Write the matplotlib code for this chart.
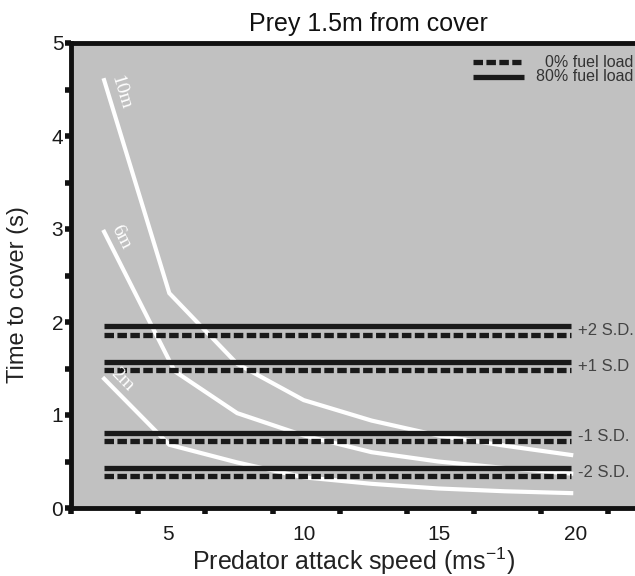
import numpy as np
import matplotlib
matplotlib.use("Agg")
import matplotlib.pyplot as plt
from matplotlib.lines import Line2D

plt.rcParams['font.family'] = ['Liberation Sans', 'DejaVu Sans']
plt.rcParams['mathtext.default'] = 'regular'

# ---- data ----
speed_10m = [2.65, 5.05, 7.55, 10.0, 12.5, 14.95, 17.4, 19.85]
time_10m = [4.60, 2.31, 1.55, 1.16, 0.94, 0.78, 0.67, 0.57]

speed_6m = [2.65, 5.25, 7.55, 10.0, 12.5, 14.95, 17.4, 19.85]
time_6m = [2.97, 1.47, 1.02, 0.78, 0.60, 0.50, 0.43, 0.37]

speed_2m = [2.65, 5.05, 7.55, 10.0, 12.5, 14.95, 17.4, 19.85]
time_2m = [1.39, 0.68, 0.49, 0.33, 0.26, 0.21, 0.18, 0.16]

curve_labels = ["10m", "6m", "2m"]

sd_labels = ["+2 S.D.", "+1 S.D", "-1 S.D.", "-2 S.D."]
sd_fuel0 = [1.86, 1.48, 0.72, 0.34]     # dashed: 0% fuel load
sd_fuel80 = [1.96, 1.57, 0.81, 0.43]    # solid: 80% fuel load
sd_xrange = [2.65, 19.85]

x_ticklabels = [5, 10, 15, 20]
y_ticklabels = [0, 1, 2, 3, 4, 5]

# ---- figure ----
W, H = 635, 576
fig = plt.figure(figsize=(W / 100, H / 100), dpi=100)
fig.patch.set_facecolor('white')
ax = fig.add_axes([71 / W, 1 - 508 / H, 1 - 71 / W, (508 - 43) / H])
ax.set_facecolor('#c1c1c1')
ax.set_xlim(1.43, 22.2)
ax.set_ylim(0, 5)

dark = '#1a1a1a'
dash_pat = [1.8, 0.65]
# S.D. reference lines
for lab, y0, y80 in zip(sd_labels, sd_fuel0, sd_fuel80):
    ax.plot(sd_xrange, [y80, y80], color=dark, lw=3.8, solid_capstyle='butt', zorder=3)
    l, = ax.plot(sd_xrange, [y0, y0], color=dark, lw=3.8, dash_capstyle='butt', zorder=3)
    l.set_dashes(dash_pat)
    ax.text(20.11, (y0 + y80) / 2, lab, fontsize=12, color='#444444',
            va='center', ha='left', zorder=4)

# distance curves
curves = [(speed_10m, time_10m), (speed_6m, time_6m), (speed_2m, time_2m)]
for (xs, ys), lab in zip(curves, curve_labels):
    ax.plot(xs, ys, color='white', lw=3.0, solid_joinstyle='miter', zorder=2)

fig.canvas.draw()
for (xs, ys), lab in zip(curves, curve_labels):
    p0 = ax.transData.transform((xs[0], ys[0]))
    p1 = ax.transData.transform((xs[1], ys[1]))
    ang = np.degrees(np.arctan2(p1[1] - p0[1], p1[0] - p0[0]))
    ax.annotate(lab, xy=(xs[0], ys[0]), xytext=(2.5, 1.5), textcoords='offset points',
                rotation=ang, rotation_mode='anchor', ha='left', va='bottom',
                fontsize=14, color='white', family='Liberation Serif', zorder=5)

# legend drawn at the top right
ax.add_line(Line2D([0.713, 0.798], [0.959, 0.959], transform=ax.transAxes,
                   color=dark, lw=3.8, dashes=dash_pat, dash_capstyle='butt'))
ax.add_line(Line2D([0.713, 0.803], [0.927, 0.927], transform=ax.transAxes,
                   color=dark, lw=3.8, solid_capstyle='butt'))
ax.text(0.997, 0.959, "0% fuel load", transform=ax.transAxes, ha='right', va='center',
        fontsize=11.5, color='#333333')
ax.text(0.997, 0.927, "80% fuel load", transform=ax.transAxes, ha='right', va='center',
        fontsize=11.5, color='#333333')

# spines and ticks
for s in ['left', 'bottom', 'top']:
    ax.spines[s].set_linewidth(3.5)
    ax.spines[s].set_color('#111111')
ax.spines['right'].set_visible(False)

ax.set_xticks(x_ticklabels)
ax.set_xticklabels([str(v) for v in x_ticklabels])
ax.set_xticks(np.linspace(1.43, 21.22, 9), minor=True)
ax.tick_params(axis='x', which='major', length=0, pad=12, labelsize=15, labelcolor='#1a1a1a')
ax.tick_params(axis='x', which='minor', length=4, width=4, direction='out', color='#111111')

ax.set_yticks(y_ticklabels)
ax.set_yticks(np.arange(0.5, 5, 1.0), minor=True)
ax.tick_params(axis='y', which='both', length=4, width=4, direction='out', color='#111111')
ax.tick_params(axis='y', which='major', pad=1.5, labelsize=15, labelcolor='#1a1a1a')

ax.set_xlabel(r"Predator attack speed (ms$^{-1}$)", fontsize=18, color='#222222')
ax.xaxis.label.set_va('bottom')
ax.xaxis.set_label_coords(0.5, -(577 - 508) / 465)
ax.set_ylabel("Time to cover (s)", fontsize=17, color='#222222')
ax.yaxis.set_label_coords(-(71 - 29) / 564, 0.46)
ax.set_title("Prey 1.5m from cover", fontsize=18, x=0.528, pad=9, color='#111111')

fig.savefig("out.png", dpi=100)
